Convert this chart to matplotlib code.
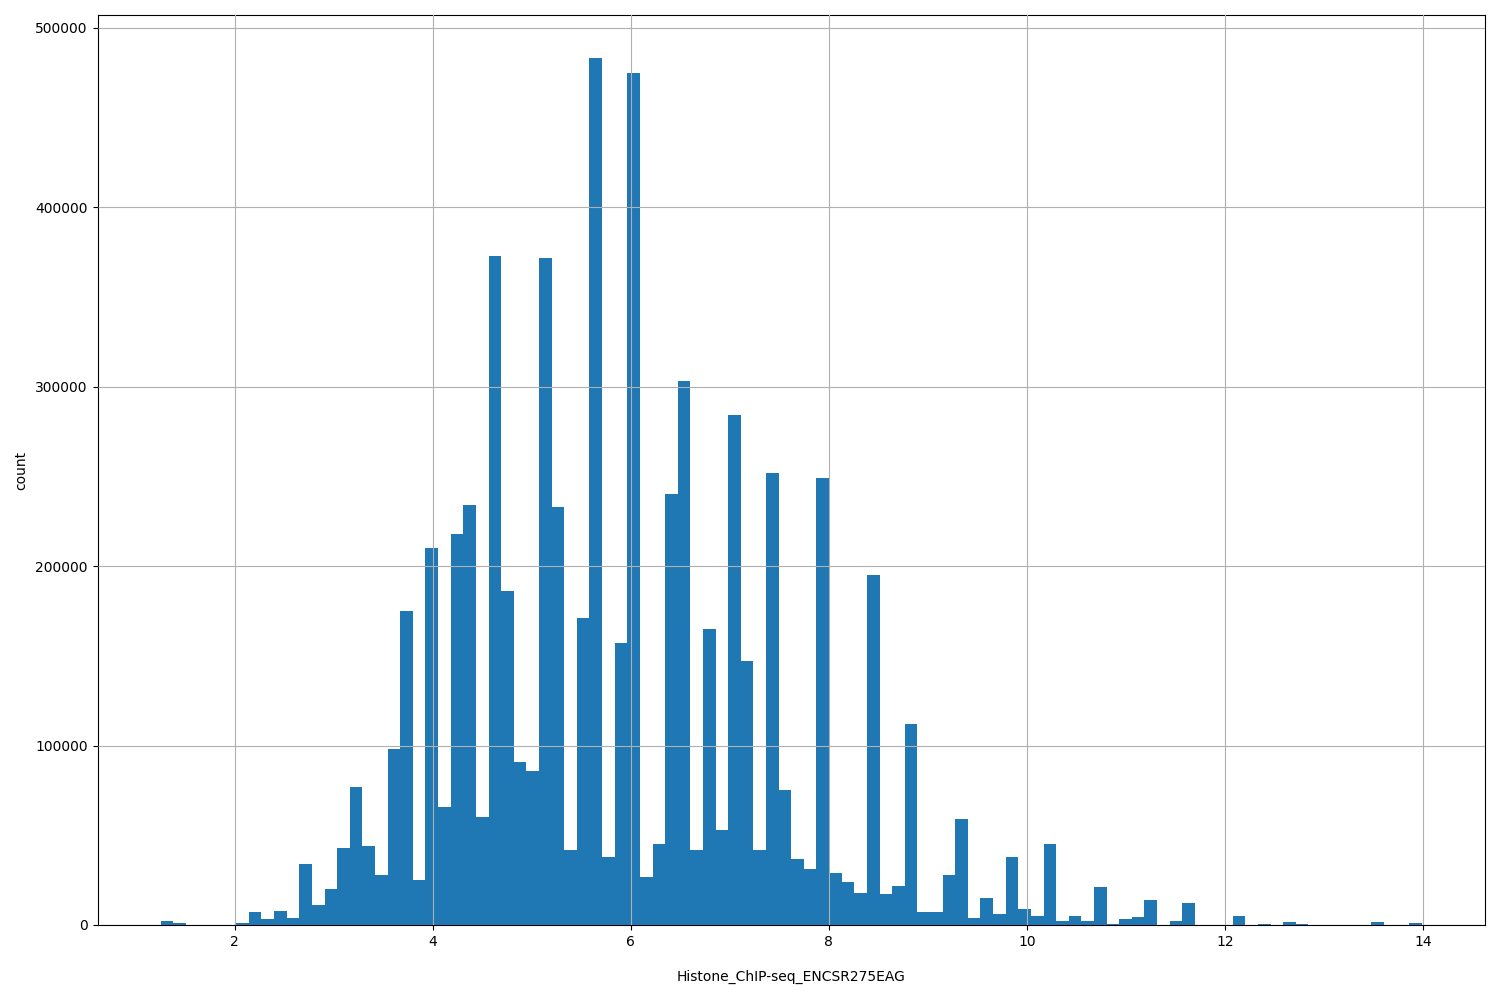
import numpy as np
import matplotlib
matplotlib.use("Agg")
import matplotlib.pyplot as plt

x_min, x_max, n_bins = 1.253, 13.99, 100
counts = [2000, 1000, 0, 0, 0, 0, 1000, 7000, 3500, 8000,
          4000, 34000, 11000, 20000, 43000, 77000, 44000, 28000, 98000, 175000,
          25000, 210000, 66000, 218000, 234000, 60000, 373000, 186000, 91000, 86000,
          372000, 233000, 42000, 171000, 483000, 38000, 157000, 475000, 27000, 45000,
          240000, 303000, 42000, 165000, 53000, 284000, 147000, 42000, 252000, 75000,
          37000, 31000, 249000, 29000, 24000, 18000, 195000, 17000, 22000, 112000,
          7000, 7000, 28000, 59000, 4000, 15000, 6000, 38000, 9000, 5000,
          45000, 2000, 5000, 2000, 21000, 500, 3500, 4500, 14000, 0,
          2000, 12000, 0, 0, 0, 5000, 0, 500, 0, 1500,
          500, 0, 0, 0, 0, 0, 1500, 0, 0, 1000]

edges = np.linspace(x_min, x_max, n_bins + 1)
centers = (edges[:-1] + edges[1:]) / 2

fig = plt.figure(figsize=(15, 10), dpi=100)
ax = fig.add_axes([0.065, 0.075, 0.925, 0.91])
ax.hist(centers, bins=edges, weights=counts, color="#1f77b4")
ax.grid(True)
ax.set_axisbelow(False)
ax.set_xlabel("Histone_ChIP-seq_ENCSR275EAG", labelpad=15)
ax.set_ylabel("count", labelpad=5)
fig.savefig("out.png")
